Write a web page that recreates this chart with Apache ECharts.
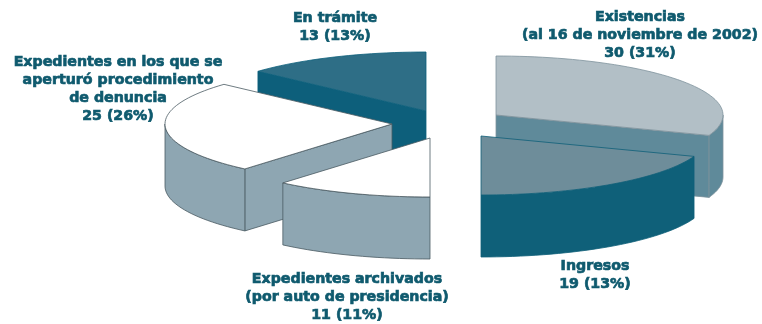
<!DOCTYPE html>
<html>
<head>
<meta charset="utf-8">
<style>
  html, body { margin: 0; padding: 0; background: #fff; }
  #chart { width: 762px; height: 324px; }
</style>
<script src="https://cdn.jsdelivr.net/npm/echarts@6/dist/echarts.min.js"></script>
</head>
<body>
<div id="chart"></div>
<script>
// 数据
const categories = [
  'Existencias\n(al 16 de noviembre de 2002)',
  'Ingresos',
  'Expedientes archivados\n(por auto de presidencia)',
  'Expedientes en los que se\naperturó procedimiento\nde denuncia',
  'En trámite'
];
const values = [30, 19, 11, 25, 13];
const percents = [31, 13, 11, 26, 13];

// 样式
const topColors = ['#b2bfc6', '#6e8d9a', '#ffffff', '#ffffff', '#2e6e86'];
const wallColors = ['#5f8a9a', '#0f6079', '#8ea6b2', '#8ea6b2', '#0d5f7b'];
const strokeColors = ['#7d929c', '#0f6079', '#4a5a62', '#4a5a62', '#0d5f7b'];
const explodeX = [66, 51, 0, -38, -4];
const explodeY = [-10, 11, 13, -1, -14];
const paintOrder = [3, 4, 2, 1, 0];
const labelX = [640, 595, 347, 118, 335];
const labelY = [35, 275, 297, 89, 27];

// 饼图几何
const centerX = 430;
const centerY = 125;
const radiusX = 227;
const radiusY = 59;
const depth = 62;
const total = values.reduce((a, b) => a + b, 0);

const rad = deg => deg * Math.PI / 180;
const onRim = (cx, cy, deg, drop = 0) => [
  cx + radiusX * Math.sin(rad(deg)),
  cy - radiusY * Math.cos(rad(deg)) + drop
];
const arcPoints = (cx, cy, from, to, drop = 0) => {
  const pts = [];
  const steps = Math.max(2, Math.ceil((to - from) / 2));
  for (let i = 0; i <= steps; i++) {
    pts.push(onRim(cx, cy, from + (to - from) * i / steps, drop));
  }
  return pts;
};

function renderSlice(params, api) {
  const idx = params.dataIndex;
  const before = values.slice(0, idx).reduce((a, b) => a + b, 0);
  const start = before / total * 360;
  const end = (before + api.value(0)) / total * 360;
  const cx = centerX + explodeX[idx];
  const cy = centerY + explodeY[idx];
  const z2 = paintOrder[idx] * 10;
  const children = [];

  const addPoly = (points, fill, z) => children.push({
    type: 'polygon',
    z2: z,
    shape: { points },
    style: { fill, stroke: strokeColors[idx], lineWidth: 0.8 }
  });

  // 径向侧面
  const radialWall = deg => {
    const rim = onRim(cx, cy, deg);
    addPoly([[cx, cy], rim, [rim[0], rim[1] + depth], [cx, cy + depth]], wallColors[idx], z2);
  };
  if (Math.sin(rad(start)) < -1e-6) radialWall(start);
  if (Math.sin(rad(end)) > 1e-6) radialWall(end);

  // 外弧侧面
  const from = Math.max(start, 90);
  const to = Math.min(end, 270);
  if (to > from) {
    addPoly(
      arcPoints(cx, cy, from, to).concat(arcPoints(cx, cy, from, to, depth).reverse()),
      wallColors[idx],
      z2 + 1
    );
  }

  // 顶面
  addPoly([[cx, cy]].concat(arcPoints(cx, cy, start, end)), topColors[idx], z2 + 2);

  // 标签
  children.push({
    type: 'text',
    z2: 100,
    x: labelX[idx],
    y: labelY[idx],
    style: {
      text: categories[idx] + '\n' + api.value(0) + ' (' + percents[idx] + '%)',
      fill: '#0f5a6e',
      stroke: '#0f5a6e',
      lineWidth: 0.7,
      fontFamily: 'DejaVu Sans',
      fontWeight: 'bold',
      fontSize: 14.2,
      lineHeight: 18,
      align: 'center',
      verticalAlign: 'middle'
    }
  });

  return { type: 'group', children };
}

const chart = echarts.init(document.getElementById('chart'), null, { renderer: 'canvas' });
chart.setOption({
  animation: false,
  backgroundColor: '#ffffff',
  series: [{
    type: 'custom',
    coordinateSystem: 'none',
    silent: true,
    data: values,
    renderItem: renderSlice
  }]
});
</script>
</body>
</html>
